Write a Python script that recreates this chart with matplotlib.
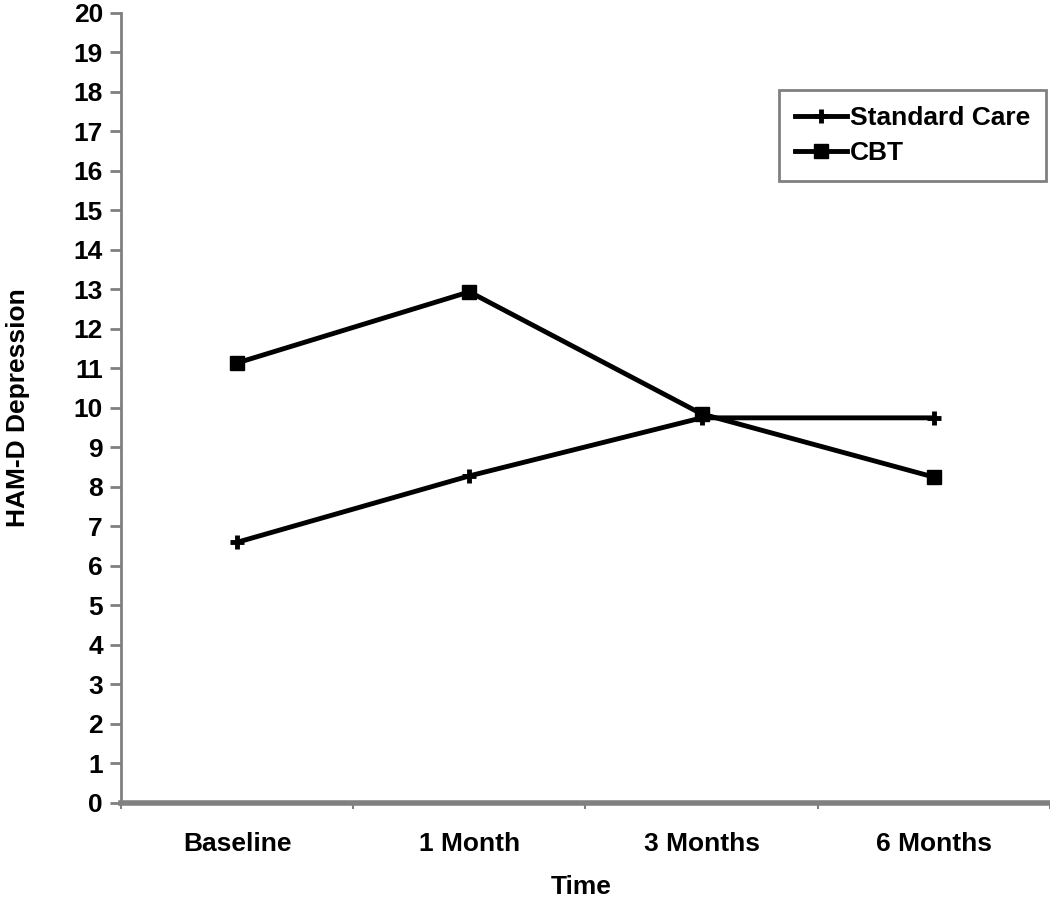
import matplotlib
matplotlib.use("Agg")
import matplotlib.pyplot as plt

categories = ["Baseline", "1 Month", "3 Months", "6 Months"]
standard_care = [6.6, 8.28, 9.75, 9.75]
cbt = [11.14, 12.94, 9.85, 8.25]
y_ticks = list(range(0, 21))

plt.rcParams['font.family'] = ['Liberation Sans', 'DejaVu Sans']
FS = 19

fig = plt.figure(figsize=(10.5, 9.01), dpi=100)
ax = fig.add_axes([0.1152, 0.1088, 0.8848, 0.8768])

xpos = [i + 0.5 for i in range(len(categories))]
ax.plot(xpos, standard_care, color='black', lw=3.5, marker='+', ms=10, mew=3.5,
        label='Standard Care')
ax.plot(xpos, cbt, color='black', lw=3.5, marker='s', ms=10, label='CBT')

ax.set_xlim(0, 4)
ax.set_ylim(0, 20)
ax.set_yticks(y_ticks)
ax.set_yticklabels([str(v) for v in y_ticks], fontsize=FS, fontweight='bold')
ax.set_xticks([0, 1, 2, 3, 4])
ax.set_xticklabels([])
ax.set_xticks(xpos, minor=True)
ax.set_xticklabels(categories, minor=True, fontsize=FS, fontweight='bold')
ax.tick_params(axis='x', which='minor', length=0, pad=21)
ax.tick_params(axis='x', which='major', length=4, width=1.5, color='#808080', direction='out')
ax.tick_params(axis='y', length=8, width=2, color='#808080', direction='out', pad=5)

for s in ['top', 'right']:
    ax.spines[s].set_visible(False)
ax.spines['left'].set_color('#808080')
ax.spines['left'].set_linewidth(2)
ax.spines['bottom'].set_color('#808080')
ax.spines['bottom'].set_linewidth(4)

ax.set_ylabel('HAM-D Depression', fontsize=FS, fontweight='bold', va='center')
ax.yaxis.set_label_coords(-0.111, 0.501)
ax.set_xlabel('Time', fontsize=FS, fontweight='bold', va='center')
ax.xaxis.set_label_coords(0.495, -0.106)

leg = ax.legend(loc='upper right', bbox_to_anchor=(1046 / 1050, 1 - 90 / 901),
                bbox_transform=fig.transFigure,
                prop={'weight': 'bold', 'size': FS}, frameon=True, fancybox=False,
                handlelength=2.0, handletextpad=0.1, borderpad=0.6, labelspacing=0.42,
                borderaxespad=0)
leg.get_frame().set_edgecolor('#606060')
leg.get_frame().set_linewidth(2)

fig.savefig('out.png', dpi=100)
